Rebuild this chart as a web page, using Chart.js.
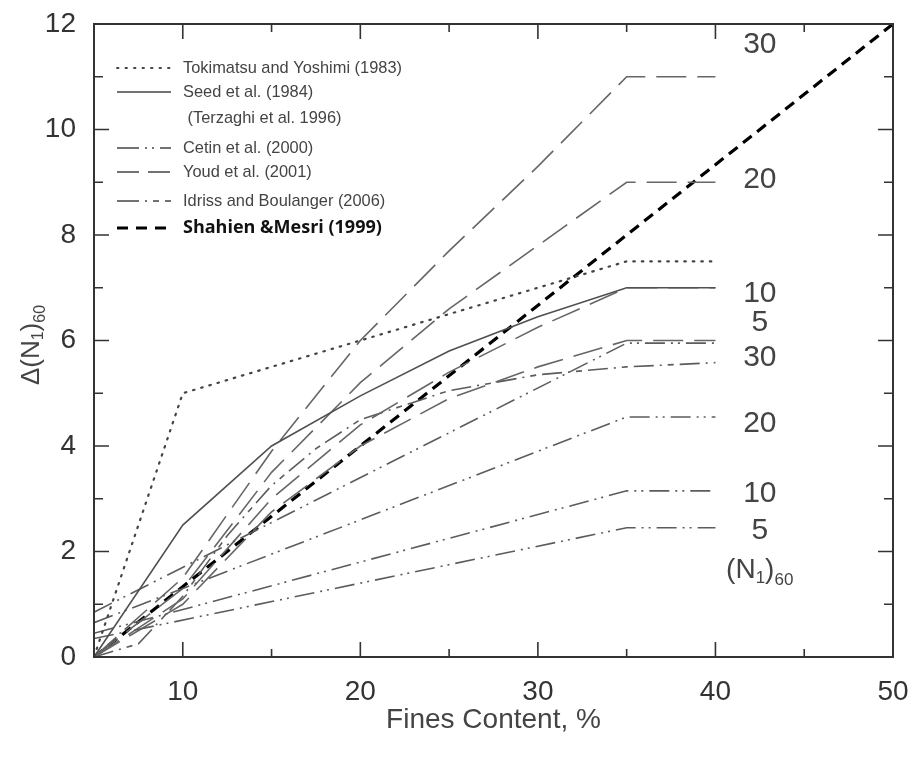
<!DOCTYPE html>
<html><head><meta charset="utf-8">
<script src="https://cdn.jsdelivr.net/npm/chart.js@4.4.1/dist/chart.umd.min.js"></script>
<style>html,body{margin:0;padding:0;background:#fff}#wrap{width:912px;height:761px}</style>
</head><body><div id="wrap"><canvas id="c" width="912" height="761"></canvas></div>
<script>
// ---- data ----
const fcYoud = [5, 10, 15, 20, 25, 30, 35, 40];
const youd30 = [0, 1.5, 3.9, 6.0, 7.7, 9.3, 11.0, 11.0];
const youd20 = [0, 1.3, 3.5, 5.2, 6.6, 7.8, 9.0, 9.0];
const youd10 = [0, 1.1, 3.0, 4.4, 5.4, 6.25, 7.0, 7.0];
const youd5  = [0, 1.0, 2.75, 4.0, 4.9, 5.5, 6.0, 6.0];
const fcCetin = [5, 35, 40];
const cetin30 = [0.85, 5.95, 5.95];
const cetin20 = [0.65, 4.55, 4.55];
const cetin10 = [0.45, 3.15, 3.15];
const cetin5  = [0.35, 2.45, 2.45];
const fcIdriss = [5, 7.5, 10, 12.5, 15, 17.5, 20, 25, 30, 35, 40];
const idriss   = [0, 0.25, 1.15, 2.3, 3.25, 3.95, 4.5, 5.05, 5.35, 5.5, 5.58];
const fcSeed = [5, 10, 15, 20, 25, 30, 35, 40];
const seed   = [0, 2.5, 4.0, 4.95, 5.8, 6.45, 7.0, 7.0];
const fcToki = [5, 10, 35, 40];
const toki   = [0, 5.0, 7.5, 7.5];
const fcShahien = [5, 50];
const shahien   = [0, 12];
const xTicks = [10, 20, 30, 40, 50];
const yTicks = [0, 2, 4, 6, 8, 10, 12];
const curveLabels = ["30", "20", "10", "5", "30", "20", "10", "5"];
const curveLabelY = [11.6, 9.05, 6.88, 6.33, 5.68, 4.43, 3.09, 2.39];

const pts = (xs, ys) => xs.map((x, i) => ({x, y: ys[i]}));
const GRAY = '#5c5c5c';
const DASH_YOUD = [30, 11];
const DASH_CETIN = [20, 6, 2, 5, 2, 6];
const DASH_IDRISS = [20, 6, 2, 6, 6, 6];
const DASH_TOKI = [1.5, 7];
const DASH_SHAHIEN = [11, 7];

function ds(label, data, dash, extra) {
  return Object.assign({label, data, borderColor: GRAY, borderWidth: 1.6, borderDash: dash,
    pointRadius: 0, fill: false, tension: 0, showLine: true}, extra || {});
}
const datasets = [
  ds('Tokimatsu and Yoshimi (1983)', pts(fcToki, toki), DASH_TOKI, {borderWidth: 2.2, borderCapStyle: 'round', borderColor: '#444'}),
  ds('Seed et al. (1984)', pts(fcSeed, seed), [], {borderColor: '#505050'}),
  ds('Cetin 30', pts(fcCetin, cetin30), DASH_CETIN),
  ds('Cetin 20', pts(fcCetin, cetin20), DASH_CETIN),
  ds('Cetin 10', pts(fcCetin, cetin10), DASH_CETIN),
  ds('Cetin 5', pts(fcCetin, cetin5), DASH_CETIN),
  ds('Youd 30', pts(fcYoud, youd30), DASH_YOUD, {borderColor: '#666'}),
  ds('Youd 20', pts(fcYoud, youd20), DASH_YOUD, {borderColor: '#666'}),
  ds('Youd 10', pts(fcYoud, youd10), DASH_YOUD, {borderColor: '#666'}),
  ds('Youd 5', pts(fcYoud, youd5), DASH_YOUD, {borderColor: '#666'}),
  ds('Idriss and Boulanger (2006)', pts(fcIdriss, idriss), DASH_IDRISS),
  ds('Shahien &Mesri (1999)', pts(fcShahien, shahien), DASH_SHAHIEN, {borderColor: '#000', borderWidth: 3.2})
];

const legendRows = [
  {text: 'Tokimatsu and Yoshimi (1983)', dash: DASH_TOKI, w: 1.8, y: 68, color: '#444', cap: 'round'},
  {text: 'Seed et al. (1984)', dash: [], w: 1.6, y: 92, color: '#444'},
  {text: ' (Terzaghi et al. 1996)', dash: null, y: 118},
  {text: 'Cetin et al. (2000)', dash: [22, 6, 2, 5, 2, 6], w: 1.6, y: 148, color: '#444'},
  {text: 'Youd et al. (2001)', dash: [22, 9], w: 1.6, y: 172, color: '#444'},
  {text: 'Idriss and Boulanger (2006)', dash: [22, 6, 2, 6, 6, 6], w: 1.6, y: 201, color: '#444'},
  {text: 'Shahien &Mesri (1999)', dash: [11, 8], w: 3.2, y: 228, color: '#000', bold: true}
];

const F = '"Liberation Sans", Arial, sans-serif';

const decor = {
  id: 'decor',
  afterDraw(chart) {
    const {ctx, chartArea: a, scales: {x, y}} = chart;
    ctx.save();
    ctx.strokeStyle = '#333'; ctx.lineWidth = 2; ctx.setLineDash([]);
    ctx.strokeRect(a.left, a.top, a.right - a.left, a.bottom - a.top);
    ctx.lineWidth = 1.6;
    for (let v = 10; v <= 45; v += 5) {
      const px = x.getPixelForValue(v), len = v % 10 === 0 ? 15 : 8;
      ctx.beginPath(); ctx.moveTo(px, a.bottom); ctx.lineTo(px, a.bottom - len);
      ctx.moveTo(px, a.top); ctx.lineTo(px, a.top + len); ctx.stroke();
    }
    for (let v = 1; v <= 11; v += 1) {
      const py = y.getPixelForValue(v), len = v % 2 === 0 ? 15 : 9;
      ctx.beginPath(); ctx.moveTo(a.left, py); ctx.lineTo(a.left + len, py);
      ctx.moveTo(a.right, py); ctx.lineTo(a.right - len, py); ctx.stroke();
    }
    legendRows.forEach(r => {
      if (r.dash) {
        ctx.beginPath(); ctx.setLineDash(r.dash); ctx.lineWidth = r.w; ctx.strokeStyle = r.color;
        ctx.lineCap = r.cap || 'butt';
        ctx.moveTo(117, r.y); ctx.lineTo(171, r.y); ctx.stroke();
      }
      ctx.setLineDash([]); ctx.lineCap = 'butt';
      ctx.font = r.bold ? 'bold 18px "Open Sans", Lato, sans-serif' : '16.4px ' + F;
      ctx.fillStyle = r.bold ? '#111' : '#444';
      ctx.textBaseline = 'middle'; ctx.textAlign = 'left';
      ctx.fillText(r.text, 183, r.y);
    });
    ctx.font = '30px ' + F; ctx.fillStyle = '#444'; ctx.textAlign = 'center'; ctx.textBaseline = 'middle';
    const lx = x.getPixelForValue(42.5);
    curveLabels.forEach((t, i) => ctx.fillText(t, lx, y.getPixelForValue(curveLabelY[i])));
    const ny = y.getPixelForValue(1.65);
    ctx.textAlign = 'left';
    let cx = x.getPixelForValue(40.6);
    ctx.font = '28px ' + F; ctx.fillText('(N', cx, ny); cx += ctx.measureText('(N').width;
    ctx.font = '17px ' + F; ctx.fillText('1', cx, ny + 8); cx += ctx.measureText('1').width;
    ctx.font = '28px ' + F; ctx.fillText(')', cx, ny); cx += ctx.measureText(')').width;
    ctx.font = '17px ' + F; ctx.fillText('60', cx, ny + 10);
    ctx.save();
    ctx.translate(32, 345); ctx.rotate(-Math.PI / 2);
    ctx.fillStyle = '#444'; ctx.textBaseline = 'middle';
    const parts = [['Δ(N', 26, 0], ['1', 16, 7], [')', 26, 0], ['60', 16, 9]];
    let total = 0;
    parts.forEach(p => { ctx.font = p[1] + 'px ' + F; total += ctx.measureText(p[0]).width; });
    let tx = -total / 2;
    parts.forEach(p => { ctx.font = p[1] + 'px ' + F; ctx.fillText(p[0], tx, p[2]); tx += ctx.measureText(p[0]).width; });
    ctx.restore();
    ctx.restore();
  }
};

new Chart(document.getElementById('c'), {
  type: 'scatter',
  data: {datasets},
  options: {
    responsive: false, animation: false,
    layout: {padding: {top: 24, right: 19, left: 0, bottom: 0}},
    plugins: {legend: {display: false}, tooltip: {enabled: false}},
    scales: {
      x: {
        type: 'linear', min: 5, max: 50,
        afterBuildTicks: s => { s.ticks = xTicks.map(v => ({value: v})); },
        afterFit: s => { s.height = 104; s.paddingLeft = 0; s.paddingRight = 0; },
        grid: {display: false, drawTicks: false},
        border: {display: false},
        ticks: {color: '#333', font: {family: F, size: 28}, padding: 18, maxRotation: 0},
        title: {display: true, text: 'Fines Content, %', color: '#444', font: {family: F, size: 28}, padding: {top: 0, bottom: 24}}
      },
      y: {
        type: 'linear', min: 0, max: 12,
        afterBuildTicks: s => { s.ticks = yTicks.map(v => ({value: v})); },
        afterFit: s => { s.width = 94; s.paddingTop = 0; s.paddingBottom = 0; },
        grid: {display: false, drawTicks: false},
        border: {display: false},
        ticks: {color: '#333', font: {family: F, size: 28}, padding: 18}
      }
    }
  },
  plugins: [decor]
});
</script></body></html>
